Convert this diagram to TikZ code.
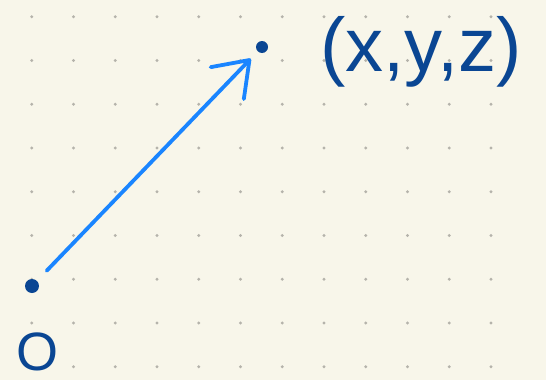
\documentclass[tikz,border=0pt]{standalone}
\usepackage{fontspec}
\setmainfont{Liberation Sans}
\usetikzlibrary{arrows.meta}
\definecolor{cPaper}{HTML}{F8F6EA}
\definecolor{cGridDot}{HTML}{B5B3AB}
\definecolor{cInk}{HTML}{0A4693}
\definecolor{cPen}{HTML}{1A85FF}

\begin{document}
\begin{tikzpicture}[x=1pt,y=-1pt,
  pt/.style={circle,fill=cInk,inner sep=0pt,minimum size=12pt},
  hand/.style={text=cInk,inner sep=0pt},
  ar/.style={-{Straight Barb[length=32pt,width=46pt,line cap=round,line join=round]},
             line width=3.8pt,cPen,line cap=round}]

\fill[cPaper] (0,0) rectangle (546,380);
\useasboundingbox (0,0) rectangle (546,380);
\foreach \i in {0,...,11}
  \foreach \j in {0,...,8}
    \fill[cGridDot] (31.7+41.75*\i,16.7+43.75*\j) circle (1.6);

\node[pt] (tip) at (262,47) {};
\node[pt,minimum width=12pt,minimum height=14pt] (base) at (32,286) {};
\node[hand,font=\fontsize{76}{76}\selectfont] (xyz) at (421,52) {(x,y,z)};
\node[hand,font=\fontsize{54}{54}\selectfont,anchor=base] (orig) at (38,370) {O};

\draw[ar,shorten <=14pt,shorten >=10pt] (base) -- (tip);
\end{tikzpicture}
\end{document}
